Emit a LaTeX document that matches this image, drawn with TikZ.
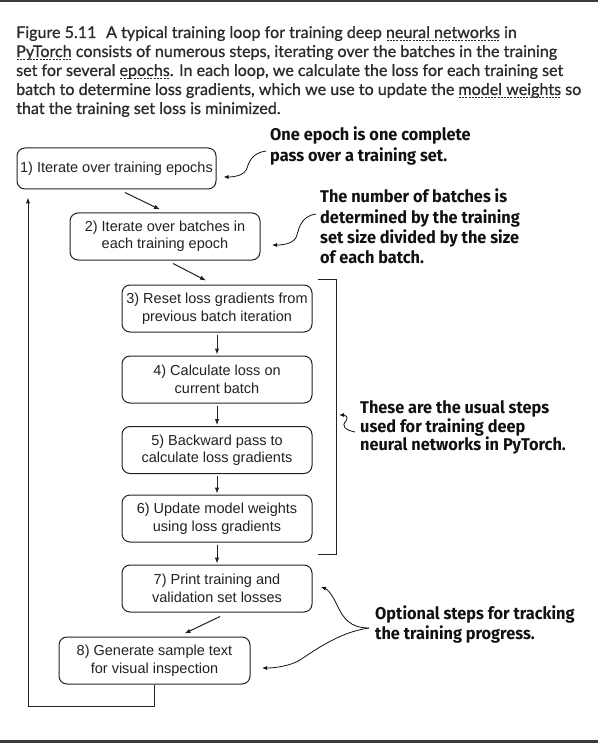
\documentclass[tikz,border=0pt]{standalone}
\usepackage{fontspec}
\usetikzlibrary{arrows.meta,calc}
\newfontfamily\capfont{Lato}[FakeBold=0.9]
\newfontfamily\boxfont{Liberation Sans}
\newfontfamily\notefont{Fira Sans}[FakeStretch=0.96]
\definecolor{capgray}{HTML}{2B2B2B}
\definecolor{linegray}{HTML}{222222}
\definecolor{boxtext}{HTML}{222222}
\definecolor{notec}{HTML}{111111}
\definecolor{bargray}{HTML}{3A3A3A}
\newcommand{\dul}[1]{\setbox0\hbox{#1}\leavevmode\rlap{\lower3pt\hbox to \wd0{\xleaders\hbox to 3.2pt{\hss\vrule width 2pt height 0.9pt\hss}\hfil}}\box0\relax}
\begin{document}
\begin{tikzpicture}[x=1pt,y=-1pt,
  stepbox/.style={draw=linegray, line width=1pt, rounded corners=8pt, minimum height=47pt, minimum width=190pt, inner sep=0pt, align=center, font=\boxfont\fontsize{14.5}{17.5}\selectfont, text=boxtext},
  captext/.style={anchor=base west, inner sep=0pt, font=\capfont\fontsize{16.1}{19}\selectfont, text=capgray},
  notetext/.style={anchor=base west, inner sep=0pt, font=\notefont\bfseries\fontsize{17}{20}\selectfont, text=notec},
  flow/.style={draw=linegray, line width=1pt, -{Latex[length=6pt,width=4.5pt]}},
  callout/.style={draw=notec, line width=0.8pt, -{Latex[length=5pt,width=4pt]}},
  framepart/.style={draw=linegray, line width=1pt}
]
\useasboundingbox (0,0) rectangle (598,743);
\fill[white] (0,0) rectangle (598,743);
\fill[bargray] (0,0) rectangle (598,2.5);
\fill[bargray] (0,739.5) rectangle (598,743);

% caption
\node[captext] (c1) at (16,38) {Figure 5.11\hspace{0.6em}A typical training loop for training deep \dul{neural networks} in};
\node[captext] (c2) at (16,57) {\dul{PyTorch} consists of numerous steps, iterating over the batches in the training};
\node[captext] (c3) at (16,76) {set for several \dul{epochs}. In each loop, we calculate the loss for each training set};
\node[captext] (c4) at (16,95) {batch to determine loss gradients, which we use to update the \dul{model weights} so};
\node[captext] (c5) at (16,114) {that the training set loss is minimized.};

% steps
\node[stepbox, minimum width=199pt, minimum height=41pt] (s1) at (116.5,168.5) {1) Iterate over training epochs};
\node[stepbox] (s2) at (165,236.5) {2) Iterate over batches in\\each training epoch};
\node[stepbox] (s3) at (217,308.5) {3) Reset loss gradients from\\previous batch iteration};
\node[stepbox] (s4) at (217,379.5) {4) Calculate loss on\\current batch};
\node[stepbox] (s5) at (217,450) {5) Backward pass to\\calculate loss gradients};
\node[stepbox] (s6) at (217,518.5) {6) Update model weights\\using loss gradients};
\node[stepbox] (s7) at (217,588.5) {7) Print training and\\validation set losses};
\node[stepbox, minimum width=191pt] (s8) at (154.5,660.5) {8) Generate sample text\\for visual inspection};

% flow arrows
\draw[flow] ($(s1.south)+(8.5,3)$) -- ($(s2.north)+(-5,-3)$);
\draw[flow] ($(s2.south)+(8,3)$) -- ($(s3.north)+(-11,-4)$);
\draw[flow, shorten <=2pt, shorten >=1pt] (s3) -- (s4);
\draw[flow, shorten <=2pt, shorten >=1pt] (s4) -- (s5);
\draw[flow, shorten <=2pt, shorten >=1pt] (s5) -- (s6);
\draw[flow, shorten <=2pt, shorten >=1pt] (s6) -- (s7);
\draw[flow] ($(s7.south)+(3,4)$) -- ($(s8.north)+(30,-3)$);
\coordinate (lb) at (28,706);
\draw[flow] (s8.south) |- (lb) -- ($(lb |- s1.south)+(0,8)$);

% bracket
\draw[framepart] (318,279) -- (336,279) -- (336,554) -- (318,554);

% notes
\node[notetext] (n1a) at (270,141) {One epoch is one complete};
\node[notetext] (n1b) at (270,162) {pass over a training set.};
\node[notetext] (n2a) at (320,203) {The number of batches is};
\node[notetext] (n2b) at (320,223) {determined by the training};
\node[notetext] (n2c) at (320,243) {set size divided by the size};
\node[notetext] (n2d) at (320,263) {of each batch.};
\node[notetext] (n3a) at (360,413) {These are the usual steps};
\node[notetext] (n3b) at (360,432) {used for training deep};
\node[notetext] (n3c) at (360,450) {neural networks in PyTorch.};
\node[notetext] (n4a) at (375,619) {Optional steps for tracking};
\node[notetext] (n4b) at (375,639) {the training progress.};

% callouts
\coordinate (t1) at ($(s1.east |- 0,177)+(7,0)$);
\draw[callout] (266,151) .. controls (252,153) and (249,162) .. (247,168) .. controls (245,175) and (235,177) .. (t1);
\draw[callout] (316,214) .. controls (302,216) and (299,227) .. (297,235) .. controls (295,243) and (285,245) .. (272,245);
\draw[callout] (355,432) .. controls (345,430) and (341,426) .. (346,421) .. controls (349,417) and (345,415) .. (339,415);
\coordinate (j4) at (369,628);
\draw[callout] (j4) .. controls (350,628) and (343,618) .. (337,605) .. controls (332,594) and (327,589) .. (321,587);
\draw[callout] (j4) .. controls (340,632) and (315,650) .. (300,660) .. controls (290,666) and (275,668) .. (262,668);
\end{tikzpicture}
\end{document}
